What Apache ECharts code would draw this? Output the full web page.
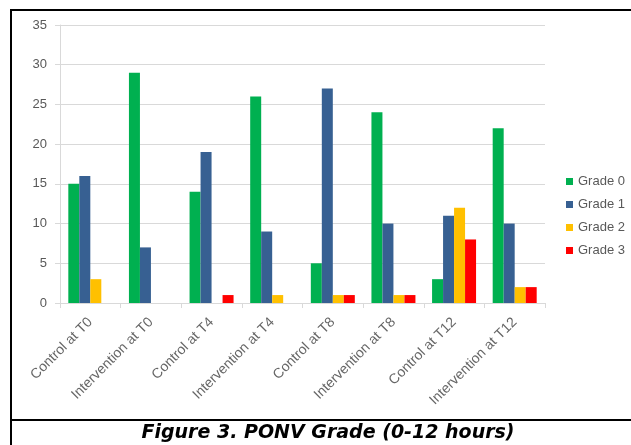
<!DOCTYPE html>
<html>
<head>
    <meta charset="utf-8">
    <title>PONV Grade</title>
    <script src="https://cdn.jsdelivr.net/npm/echarts@6/dist/echarts.min.js"></script>
    <style>
        html, body { margin: 0; padding: 0; background: #fff; }
    </style>
</head>
<body>
    <div id="main" style="width: 631px;height:445px;"></div>

    <script type="text/javascript">
        // data
        var categories = ['Control at T0', 'Intervention at T0', 'Control at T4', 'Intervention at T4',
                          'Control at T8', 'Intervention at T8', 'Control at T12', 'Intervention at T12'];
        var grade0 = [15, 29, 14, 26, 5, 24, 3, 22];
        var grade1 = [16, 7, 19, 9, 27, 10, 11, 10];
        var grade2 = [3, 0, 0, 1, 1, 1, 12, 2];
        var grade3 = [0, 0, 1, 0, 1, 1, 8, 2];
        var seriesNames = ['Grade 0', 'Grade 1', 'Grade 2', 'Grade 3'];
        var yTicks = [0, 5, 10, 15, 20, 25, 30, 35];

        var colors = ['#00b050', '#376092', '#ffc000', '#ff0000'];
        var allData = [grade0, grade1, grade2, grade3];

        var myChart = echarts.init(document.getElementById('main'));

        var series = seriesNames.map(function (name, i) {
            return {
                name: name,
                type: 'bar',
                data: allData[i],
                barWidth: 11,
                barGap: '0%',
                itemStyle: { color: colors[i] }
            };
        });

        var option = {
            animation: false,
            textStyle: { fontFamily: 'Liberation Sans, Arial, sans-serif' },
            grid: { left: 60, right: 86, top: 25, bottom: 142 },
            legend: {
                orient: 'vertical',
                left: 561,
                top: 170,
                itemWidth: 7,
                itemHeight: 7,
                itemGap: 10,
                icon: 'rect',
                textStyle: { color: '#595959', fontSize: 13 },
                data: seriesNames
            },
            xAxis: {
                type: 'category',
                data: categories,
                axisLine: { lineStyle: { color: '#d9d9d9' } },
                axisTick: { show: true, length: 5, lineStyle: { color: '#d9d9d9' } },
                axisLabel: { rotate: 45, color: '#666666', fontSize: 14, margin: 17 }
            },
            yAxis: {
                type: 'value',
                min: yTicks[0],
                max: yTicks[yTicks.length - 1],
                interval: 5,
                axisLine: { show: true, lineStyle: { color: '#d9d9d9' } },
                axisTick: { show: true, length: 5, lineStyle: { color: '#d9d9d9' } },
                axisLabel: { color: '#595959', fontSize: 13, margin: 13 },
                splitLine: { lineStyle: { color: '#d9d9d9' } }
            },
            graphic: [
                { type: 'line', shape: { x1: 11, y1: 10, x2: 631, y2: 10 }, style: { stroke: '#000', lineWidth: 2 } },
                { type: 'line', shape: { x1: 11, y1: 9, x2: 11, y2: 445 }, style: { stroke: '#000', lineWidth: 2 } },
                { type: 'line', shape: { x1: 11, y1: 420, x2: 631, y2: 420 }, style: { stroke: '#000', lineWidth: 2 } },
                {
                    type: 'text',
                    x: 328,
                    y: 433,
                    style: {
                        text: 'Figure 3. PONV Grade (0-12 hours)',
                        font: 'italic bold 19px "DejaVu Sans"',
                        fill: '#000',
                        align: 'center',
                        verticalAlign: 'middle'
                    }
                }
            ],
            series: series
        };

        myChart.setOption(option);
    </script>
</body>
</html>
